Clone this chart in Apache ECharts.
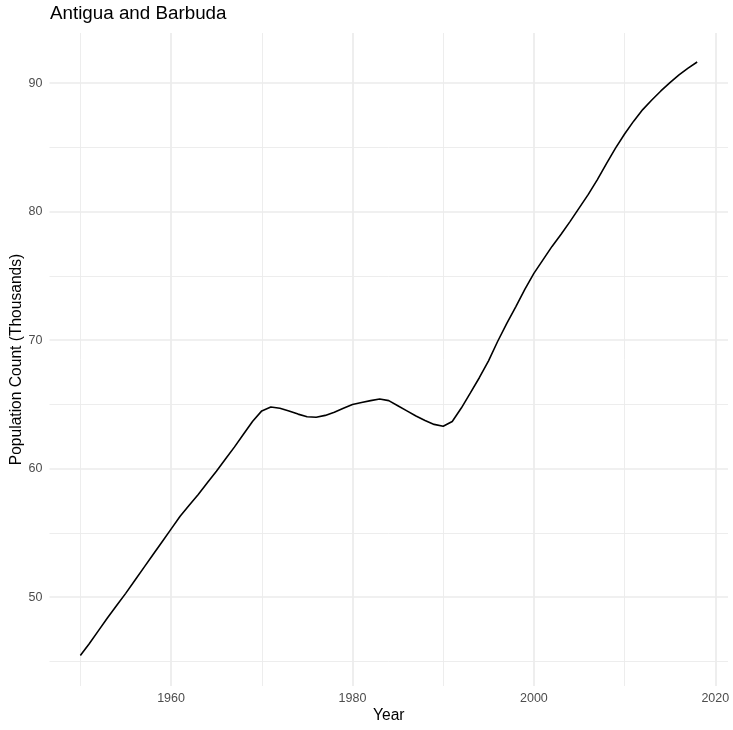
<!DOCTYPE html>
<html>
<head>
<meta charset="utf-8">
<script src="https://cdn.jsdelivr.net/npm/echarts@6/dist/echarts.min.js"></script>
<style>
html,body{margin:0;padding:0;background:#fff;}
#chart{width:733px;height:730px;}
</style>
</head>
<body>
<div id="chart"></div>
<script>
const years = [];
for (let y = 1950; y <= 2018; y++) years.push(y);
const population = [
  45.46, 46.4, 47.4, 48.4, 49.35, 50.3, 51.3, 52.3, 53.3, 54.3,
  55.3, 56.3, 57.15, 58.0, 58.9, 59.8, 60.75, 61.7, 62.7, 63.7,
  64.5, 64.8, 64.7, 64.5, 64.25, 64.05, 64.0, 64.15, 64.4, 64.7,
  65.0, 65.15, 65.3, 65.42, 65.3, 64.9, 64.5, 64.1, 63.75, 63.45,
  63.3, 63.68, 64.72, 65.9, 67.1, 68.4, 69.9, 71.3, 72.6, 73.95,
  75.2, 76.25, 77.3, 78.25, 79.25, 80.3, 81.35, 82.5, 83.75, 84.95,
  86.05, 87.05, 87.95, 88.7, 89.4, 90.05, 90.65, 91.18, 91.65
];
const xMajor = [1960, 1980, 2000, 2020];
const xMinor = [1950, 1970, 1990, 2010];
const yMajor = [50, 60, 70, 80, 90];
const yMinor = [45, 55, 65, 75, 85];

const font = 'Liberation Sans, Arial, Helvetica, sans-serif';
const gridColor = '#EBEBEB';
const seriesData = years.map((y, i) => [y, population[i]]);

function ml(arr, key, width) {
  return arr.map(v => ({ [key]: v, lineStyle: { color: gridColor, width: width, type: 'solid' } }));
}

const chart = echarts.init(document.getElementById('chart'), null, { renderer: 'canvas' });
chart.setOption({
  animation: false,
  backgroundColor: '#ffffff',
  title: {
    text: 'Antigua and Barbuda',
    left: 50, top: 4.5, padding: 0,
    textStyle: { fontFamily: font, fontSize: 18.8, fontWeight: 'normal', color: '#000' }
  },
  grid: { left: 49.5, right: 5, top: 33, bottom: 44, containLabel: false, outerBoundsMode: 'none' },
  xAxis: {
    type: 'value', min: 1946.6, max: 2021.4,
    name: 'Year', nameLocation: 'middle', nameGap: 22, nameMoveOverlap: false,
    nameTextStyle: { fontFamily: font, fontSize: 15.6, color: '#000' },
    axisLine: { show: false }, axisTick: { show: false },
    splitLine: { show: false },
    axisLabel: { customValues: xMajor, margin: 6, fontFamily: font, fontSize: 12.5, color: '#4D4D4D',
                 formatter: v => String(v) }
  },
  yAxis: {
    type: 'value', min: 43.09, max: 93.91,
    name: 'Population Count (Thousands)', nameLocation: 'middle', nameGap: 25, nameMoveOverlap: false,
    nameTextStyle: { fontFamily: font, fontSize: 15.6, color: '#000' },
    axisLine: { show: false }, axisTick: { show: false },
    splitLine: { show: false },
    axisLabel: { customValues: yMajor, margin: 7, fontFamily: font, fontSize: 12.5, color: '#4D4D4D',
                 formatter: v => String(v) }
  },
  series: [
    {
      type: 'line', z: 1, data: seriesData, showSymbol: false, silent: true,
      lineStyle: { opacity: 0, width: 0 },
      markLine: {
        silent: true, symbol: 'none', label: { show: false }, animation: false,
        data: [].concat(
          ml(xMinor, 'xAxis', 0.9), ml(yMinor, 'yAxis', 0.9),
          ml(xMajor, 'xAxis', 1.7), ml(yMajor, 'yAxis', 1.7)
        )
      }
    },
    {
      type: 'line', z: 5, data: seriesData, showSymbol: false, smooth: false,
      lineStyle: { color: '#000000', width: 1.6 }
    }
  ]
});
</script>
</body>
</html>
